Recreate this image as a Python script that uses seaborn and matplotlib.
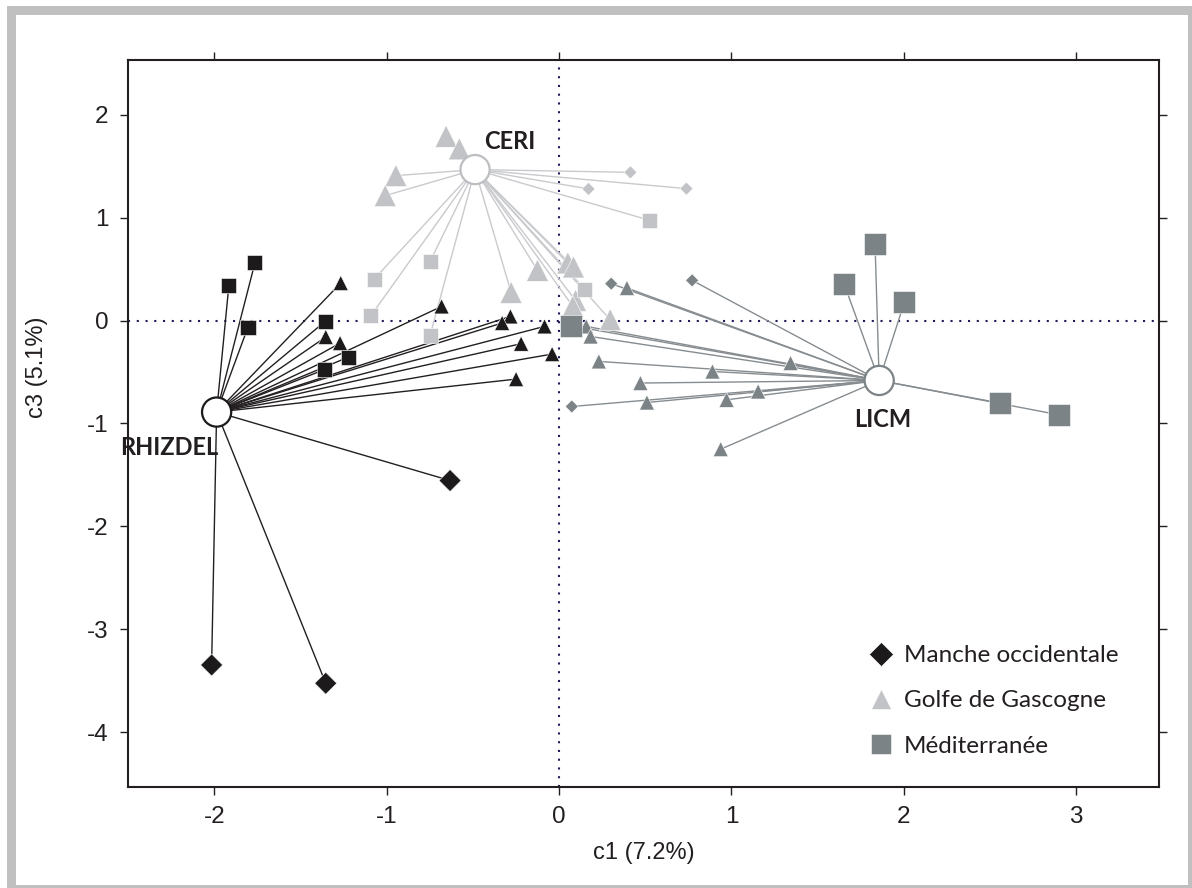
import matplotlib
matplotlib.use("Agg")
import matplotlib.pyplot as plt
from matplotlib.lines import Line2D
from matplotlib.patches import Rectangle
import seaborn as sns
import pandas as pd

# ---- data -------------------------------------------------------------
REGIONS = ["Manche occidentale", "Golfe de Gascogne", "Méditerranée"]
MO, GG, MED = REGIONS

centroid_names = ["RHIZDEL", "CERI", "LICM"]
centroid_c1 = [-1.986, -0.487, 1.857]
centroid_c3 = [-0.889, 1.466, -0.582]

rhizdel_c1 = [-1.764, -1.915, -1.804, -1.357, -1.221, -1.363,
              -1.266, -1.353, -1.270, -0.681, -0.282, -0.330, -0.084, -0.220, -0.040, -0.249,
              -0.632, -2.015, -1.353]
rhizdel_c3 = [0.559, 0.341, -0.063, -0.009, -0.355, -0.478,
              0.364, -0.160, -0.219, 0.137, 0.040, -0.024, -0.057, -0.225, -0.326, -0.569,
              -1.554, -3.345, -3.523]
rhizdel_region = [MED] * 6 + [GG] * 10 + [MO] * 3

ceri_c1 = [-0.655, -0.578, -0.946, -1.008, -0.125, -0.278, 0.051, 0.084, 0.096, 0.080, 0.297,
           0.414, 0.171, 0.739,
           0.526, -0.748, -1.072, -1.091, -0.748, 0.148]
ceri_c3 = [1.789, 1.667, 1.407, 1.213, 0.487, 0.273, 0.559, 0.520, 0.195, 0.137, 0.008,
           1.439, 1.278, 1.281,
           0.973, 0.574, 0.403, 0.047, -0.145, 0.306]
ceri_region = [GG] * 11 + [MO] * 3 + [MED] * 6

licm_c1 = [0.394, 0.158, 0.183, 0.231, 0.890, 1.343, 0.472, 0.510, 0.972, 1.155, 0.938,
           0.303, 0.772, 0.074,
           0.071, 1.833, 1.653, 2.003, 2.560, 2.898]
licm_c3 = [0.316, -0.057, -0.155, -0.397, -0.495, -0.413, -0.607, -0.796, -0.770, -0.689, -1.249,
           0.358, 0.390, -0.835,
           -0.051, 0.743, 0.358, 0.176, -0.802, -0.915]
licm_region = [GG] * 11 + [MO] * 3 + [MED] * 6

# ---- styling ----------------------------------------------------------
cluster_color = {"RHIZDEL": "#1c1a1b", "CERI": "#c2c3c7", "LICM": "#7b8387"}
link_color = {"RHIZDEL": "#231f20", "CERI": "#c9cacd", "LICM": "#868c90"}
region_marker = {MO: "D", GG: "^", MED: "s"}
marker_size = {
    "RHIZDEL": {MO: 126, GG: 117, MED: 117},
    "CERI": {MO: 44, GG: 250, MED: 117},
    "LICM": {MO: 44, GG: 117, MED: 250},
}
label_pos = {"RHIZDEL": (-1.975, -1.237, "right"),
             "CERI": (-0.288, 1.738, "center"),
             "LICM": (1.880, -0.963, "center")}

frames = []
for name, xs, ys, regs in [("RHIZDEL", rhizdel_c1, rhizdel_c3, rhizdel_region),
                           ("CERI", ceri_c1, ceri_c3, ceri_region),
                           ("LICM", licm_c1, licm_c3, licm_region)]:
    frames.append(pd.DataFrame({"c1": xs, "c3": ys, "region": regs, "cluster": name}))
points = pd.concat(frames, ignore_index=True)
centroids = pd.DataFrame({"cluster": centroid_names, "c1": centroid_c1, "c3": centroid_c3})

sns.set_style("ticks")
plt.rcParams["font.family"] = ["Liberation Sans", "DejaVu Sans"]
plt.rcParams["axes.unicode_minus"] = False

fig = plt.figure(figsize=(11.92, 8.88), dpi=100)
ax = fig.add_axes([128 / 1192, 1 - 787 / 888, 1031 / 1192, 727 / 888])

ax.set_xlim(-2.5, 3.48)
ax.set_ylim(-4.53, 2.53)

# dotted origin axes
dot_kw = dict(color="#1f1a5e", lw=1.5, linestyle=(0, (1, 3.2)), zorder=0.5)
ax.axhline(0, **dot_kw)
ax.axvline(0, **dot_kw)

# links from each centroid to its members
cent_lookup = centroids.set_index("cluster")
for _, row in points.iterrows():
    cx, cy = cent_lookup.loc[row["cluster"], ["c1", "c3"]]
    ax.plot([cx, row["c1"]], [cy, row["c3"]], color=link_color[row["cluster"]],
            lw=1.0, zorder=1, solid_capstyle="butt")

# member points
for z, name in zip([2, 2.1, 2.2], ["CERI", "RHIZDEL", "LICM"]):
    sub = points[points["cluster"] == name]
    sns.scatterplot(data=sub, x="c1", y="c3", style="region", markers=region_marker,
                    size="region", sizes=marker_size[name], color=cluster_color[name],
                    edgecolor="white", linewidth=0.4, legend=False, ax=ax, zorder=z)

# centroids
sns.scatterplot(data=centroids, x="c1", y="c3", marker="o", s=441, color="white",
                edgecolor=[cluster_color["RHIZDEL"], "#bdbec2", "#7b8387"],
                linewidth=1.6, legend=False, ax=ax, zorder=3)

for name in centroid_names:
    lx, ly, ha = label_pos[name]
    ax.text(lx, ly, name, ha=ha, va="center", fontsize=17, fontweight="bold",
            family=["Lato", "DejaVu Sans"], color="#231f20", zorder=4)

# axes cosmetics
ax.set_xticks([-2, -1, 0, 1, 2, 3])
ax.set_yticks([-4, -3, -2, -1, 0, 1, 2])
ax.tick_params(axis="both", which="both", direction="out", length=6, width=1.0,
               color="#231f20", labelsize=17.5, labelcolor="#231f20", pad=8,
               top=True, right=True)
for sp in ax.spines.values():
    sp.set_visible(True)
    sp.set_linewidth(1.5)
    sp.set_color("#231f20")

ax.set_xlabel("c1 (7.2%)", fontsize=17, color="#231f20")
ax.set_ylabel("c3 (5.1%)", fontsize=17, color="#231f20")
ax.xaxis.set_label_coords(0.5, -0.076)
ax.yaxis.set_label_coords(-0.078, 0.578)

# legend
handles = [
    Line2D([], [], marker="D", linestyle="none", markersize=12, markerfacecolor=cluster_color["RHIZDEL"],
           markeredgecolor="white", markeredgewidth=0.4, label=MO),
    Line2D([], [], marker="^", linestyle="none", markersize=15, markerfacecolor=cluster_color["CERI"],
           markeredgecolor="white", markeredgewidth=0.4, label=GG),
    Line2D([], [], marker="s", linestyle="none", markersize=15, markerfacecolor=cluster_color["LICM"],
           markeredgecolor="white", markeredgewidth=0.4, label=MED),
]
leg = ax.legend(handles=handles, loc="upper left", bbox_to_anchor=(0.704, 0.212),
                frameon=False, prop={"family": ["Lato", "DejaVu Sans"], "size": 17.5},
                labelspacing=1.0, handletextpad=0.35, handlelength=1.2, borderpad=0)
for t in leg.get_texts():
    t.set_color("#231f20")

# light grey frame around the figure
grey = "#c0c0c0"
for (x0, y0, w, h) in [(7, 6, 9, 882), (7, 6, 1185, 9), (1188, 6, 4, 882), (7, 885, 1185, 3)]:
    fig.patches.append(Rectangle((x0 / 1192, 1 - (y0 + h) / 888), w / 1192, h / 888,
                                 transform=fig.transFigure, facecolor=grey, edgecolor="none"))

fig.savefig("out.png", dpi=100, facecolor="white")
